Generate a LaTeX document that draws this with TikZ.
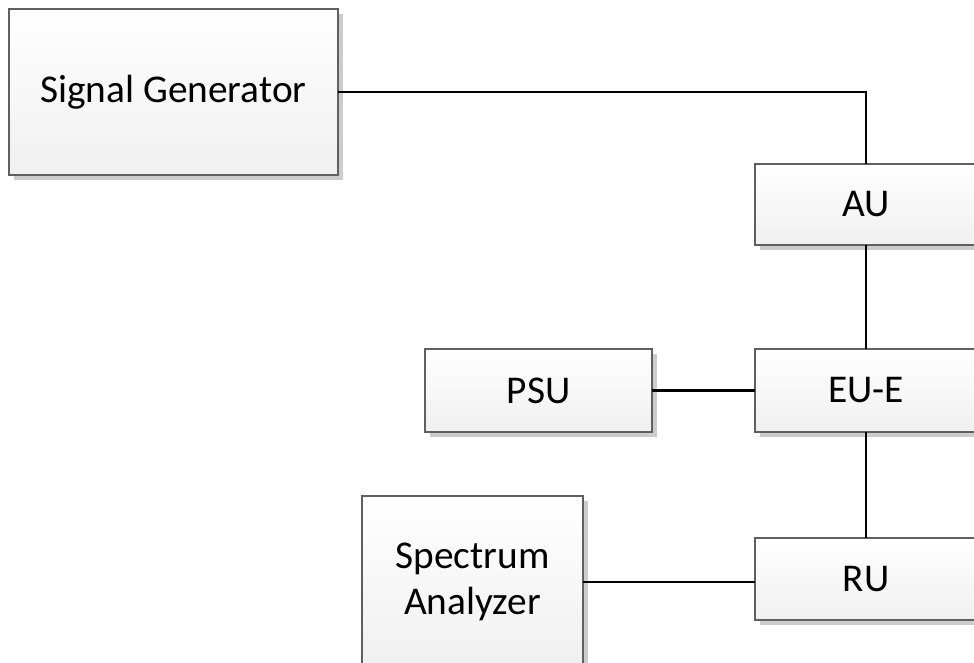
\documentclass[tikz,border=0pt]{standalone}
\usepackage{fontspec}
\setmainfont{Carlito}
\usepackage{tikz}
\usetikzlibrary{shadows,calc}
\tikzset{every picture/.style={line width=0.75pt}}
\tikzset{
    unit/.style={draw=gray!75!black, line width=1pt, top color=white, bottom color=gray!12,
        drop shadow={shadow xshift=3.5pt, shadow yshift=-3.5pt, fill=gray!40, opacity=1},
        inner sep=0pt, outer sep=0pt, align=center, font=\fontsize{29.5}{35}\selectfont},
    wire/.style={line width=1.8pt, black}
}

\begin{document}
\begin{tikzpicture}[x=0.75pt, y=-0.75pt]
    % 画布范围
    \useasboundingbox (0,0) rectangle (974,663);
    \clip (0,0) rectangle (974,663);

    % 绘制各个模块
    \node[unit, minimum width=246.75pt, minimum height=124.5pt] (sg) at (173.5,92) {Signal Generator};
    \node[unit, minimum width=166.5pt, minimum height=60.75pt] (au) at (866,204.5) {AU};
    \node[unit, minimum width=166.5pt, minimum height=62.25pt] (eue) at (866,390.5) {EU-E};
    \node[unit, minimum width=170.25pt, minimum height=62.25pt] (psu) at (538.5,390.5) {PSU};
    \node[unit, minimum width=166.5pt, minimum height=61.5pt] (ru) at (866,579) {RU};
    \node[unit, minimum width=165.75pt, minimum height=129pt] (sa) at (472.5,582) {Spectrum\\Analyzer};

    % 绘制连线
    \draw[wire] (sg.east) -| (au.north);
    \draw[wire] (au.south) -- (eue.north);
    \draw[wire] (psu.east) -- (eue.west);
    \draw[wire] (eue.south) -- (ru.north);
    \draw[wire] (sa.east) -- (sa.east -| ru.west);
\end{tikzpicture}
\end{document}
